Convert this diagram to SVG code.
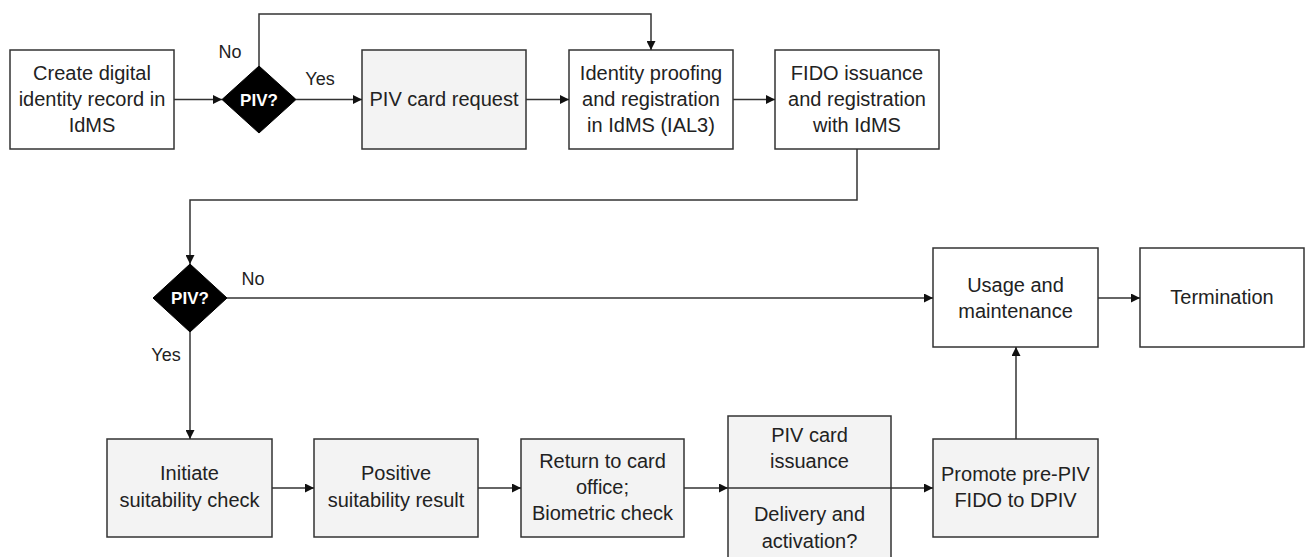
<svg xmlns="http://www.w3.org/2000/svg" width="1305" height="557" viewBox="0 0 1305 557">
<style>
.box{fill:#ffffff;stroke:#333333;stroke-width:1.5}
.gray{fill:#f3f3f3}
.dia{fill:#000000;stroke:#000000;stroke-width:1}
.t{font-family:"Liberation Sans",Arial,sans-serif;font-size:20px;fill:#222222;text-anchor:middle}
.dt{font-family:"Liberation Sans",Arial,sans-serif;font-size:17px;font-weight:bold;fill:#ffffff;text-anchor:middle}
.lbl{font-family:"Liberation Sans",Arial,sans-serif;font-size:18px;fill:#222222;text-anchor:middle}
.c{fill:none;stroke:#333333;stroke-width:1.5}
</style>
<defs>
<marker id="ah" markerUnits="userSpaceOnUse" markerWidth="9" markerHeight="9" refX="9" refY="4.5" orient="auto">
<path d="M0,0 L9,4.5 L0,9 z" fill="#111111"/>
</marker>
</defs>
<rect width="1305" height="557" fill="#ffffff"/>

<g id="n-create">
<rect class="box" x="10" y="50" width="164" height="99"/>
<text class="t" x="92" y="80">Create digital</text>
<text class="t" x="92" y="106">identity record in</text>
<text class="t" x="92" y="132">IdMS</text>
</g>
<g id="n-piv1">
<polygon class="dia" points="259,66 296,99.5 259,133 222,99.5"/>
<text class="dt" x="259" y="105.5">PIV?</text>
</g>
<g id="n-request">
<rect class="box gray" x="362" y="50" width="164" height="99"/>
<text class="t" x="444" y="106">PIV card request</text>
</g>
<g id="n-proofing">
<rect class="box" x="569" y="50" width="164" height="99"/>
<text class="t" x="651" y="80">Identity proofing</text>
<text class="t" x="651" y="106">and registration</text>
<text class="t" x="651" y="132">in IdMS (IAL3)</text>
</g>
<g id="n-fido">
<rect class="box" x="775" y="50" width="164" height="99"/>
<text class="t" x="857" y="80">FIDO issuance</text>
<text class="t" x="857" y="106">and registration</text>
<text class="t" x="857" y="132">with IdMS</text>
</g>
<g id="n-piv2">
<polygon class="dia" points="190,264 227,298 190,332 153,298"/>
<text class="dt" x="190" y="304">PIV?</text>
</g>
<g id="n-usage">
<rect class="box" x="933" y="248" width="165" height="99"/>
<text class="t" x="1015.5" y="292">Usage and</text>
<text class="t" x="1015.5" y="318">maintenance</text>
</g>
<g id="n-termination">
<rect class="box" x="1140" y="248" width="164" height="99"/>
<text class="t" x="1222" y="304">Termination</text>
</g>
<g id="n-initiate">
<rect class="box gray" x="107" y="439" width="165" height="98"/>
<text class="t" x="189.5" y="480">Initiate</text>
<text class="t" x="189.5" y="507">suitability check</text>
</g>
<g id="n-positive">
<rect class="box gray" x="314" y="439" width="164" height="98"/>
<text class="t" x="396" y="480">Positive</text>
<text class="t" x="396" y="507">suitability result</text>
</g>
<g id="n-return">
<rect class="box gray" x="521" y="439" width="163" height="98"/>
<text class="t" x="602.5" y="468">Return to card</text>
<text class="t" x="602.5" y="494">office;</text>
<text class="t" x="602.5" y="520">Biometric check</text>
</g>
<g id="n-issuance">
<rect class="box gray" x="728" y="416" width="163" height="150"/>
<text class="t" x="809.5" y="442">PIV card</text>
<text class="t" x="809.5" y="468">issuance</text>
<text class="t" x="809.5" y="521">Delivery and</text>
<text class="t" x="809.5" y="548">activation?</text>
</g>
<g id="n-promote">
<rect class="box gray" x="933" y="439" width="165" height="98"/>
<text class="t" x="1015.5" y="481">Promote pre-PIV</text>
<text class="t" x="1015.5" y="507">FIDO to DPIV</text>
</g>

<g id="connectors">
<path class="c" d="M174,99.5 H222" marker-end="url(#ah)"/>
<path class="c" d="M296,99.5 H362" marker-end="url(#ah)"/>
<path class="c" d="M259,66 V14 H651 V50" marker-end="url(#ah)"/>
<path class="c" d="M526,99.5 H569" marker-end="url(#ah)"/>
<path class="c" d="M733,99.5 H775" marker-end="url(#ah)"/>
<path class="c" d="M857,149 V200 H190 V264" marker-end="url(#ah)"/>
<path class="c" d="M227,298 H933" marker-end="url(#ah)"/>
<path class="c" d="M1098,298 H1140" marker-end="url(#ah)"/>
<path class="c" d="M190,332 V439" marker-end="url(#ah)"/>
<path class="c" d="M272,488 H314" marker-end="url(#ah)"/>
<path class="c" d="M478,488 H521" marker-end="url(#ah)"/>
<path class="c" d="M684,488 H728" marker-end="url(#ah)"/>
<path class="c" d="M728,488 H933" marker-end="url(#ah)"/>
<path class="c" d="M1016,439 V347" marker-end="url(#ah)"/>
<text class="lbl" x="230" y="58">No</text>
<text class="lbl" x="320" y="85">Yes</text>
<text class="lbl" x="253" y="285">No</text>
<text class="lbl" x="166" y="361">Yes</text>
</g>
</svg>
